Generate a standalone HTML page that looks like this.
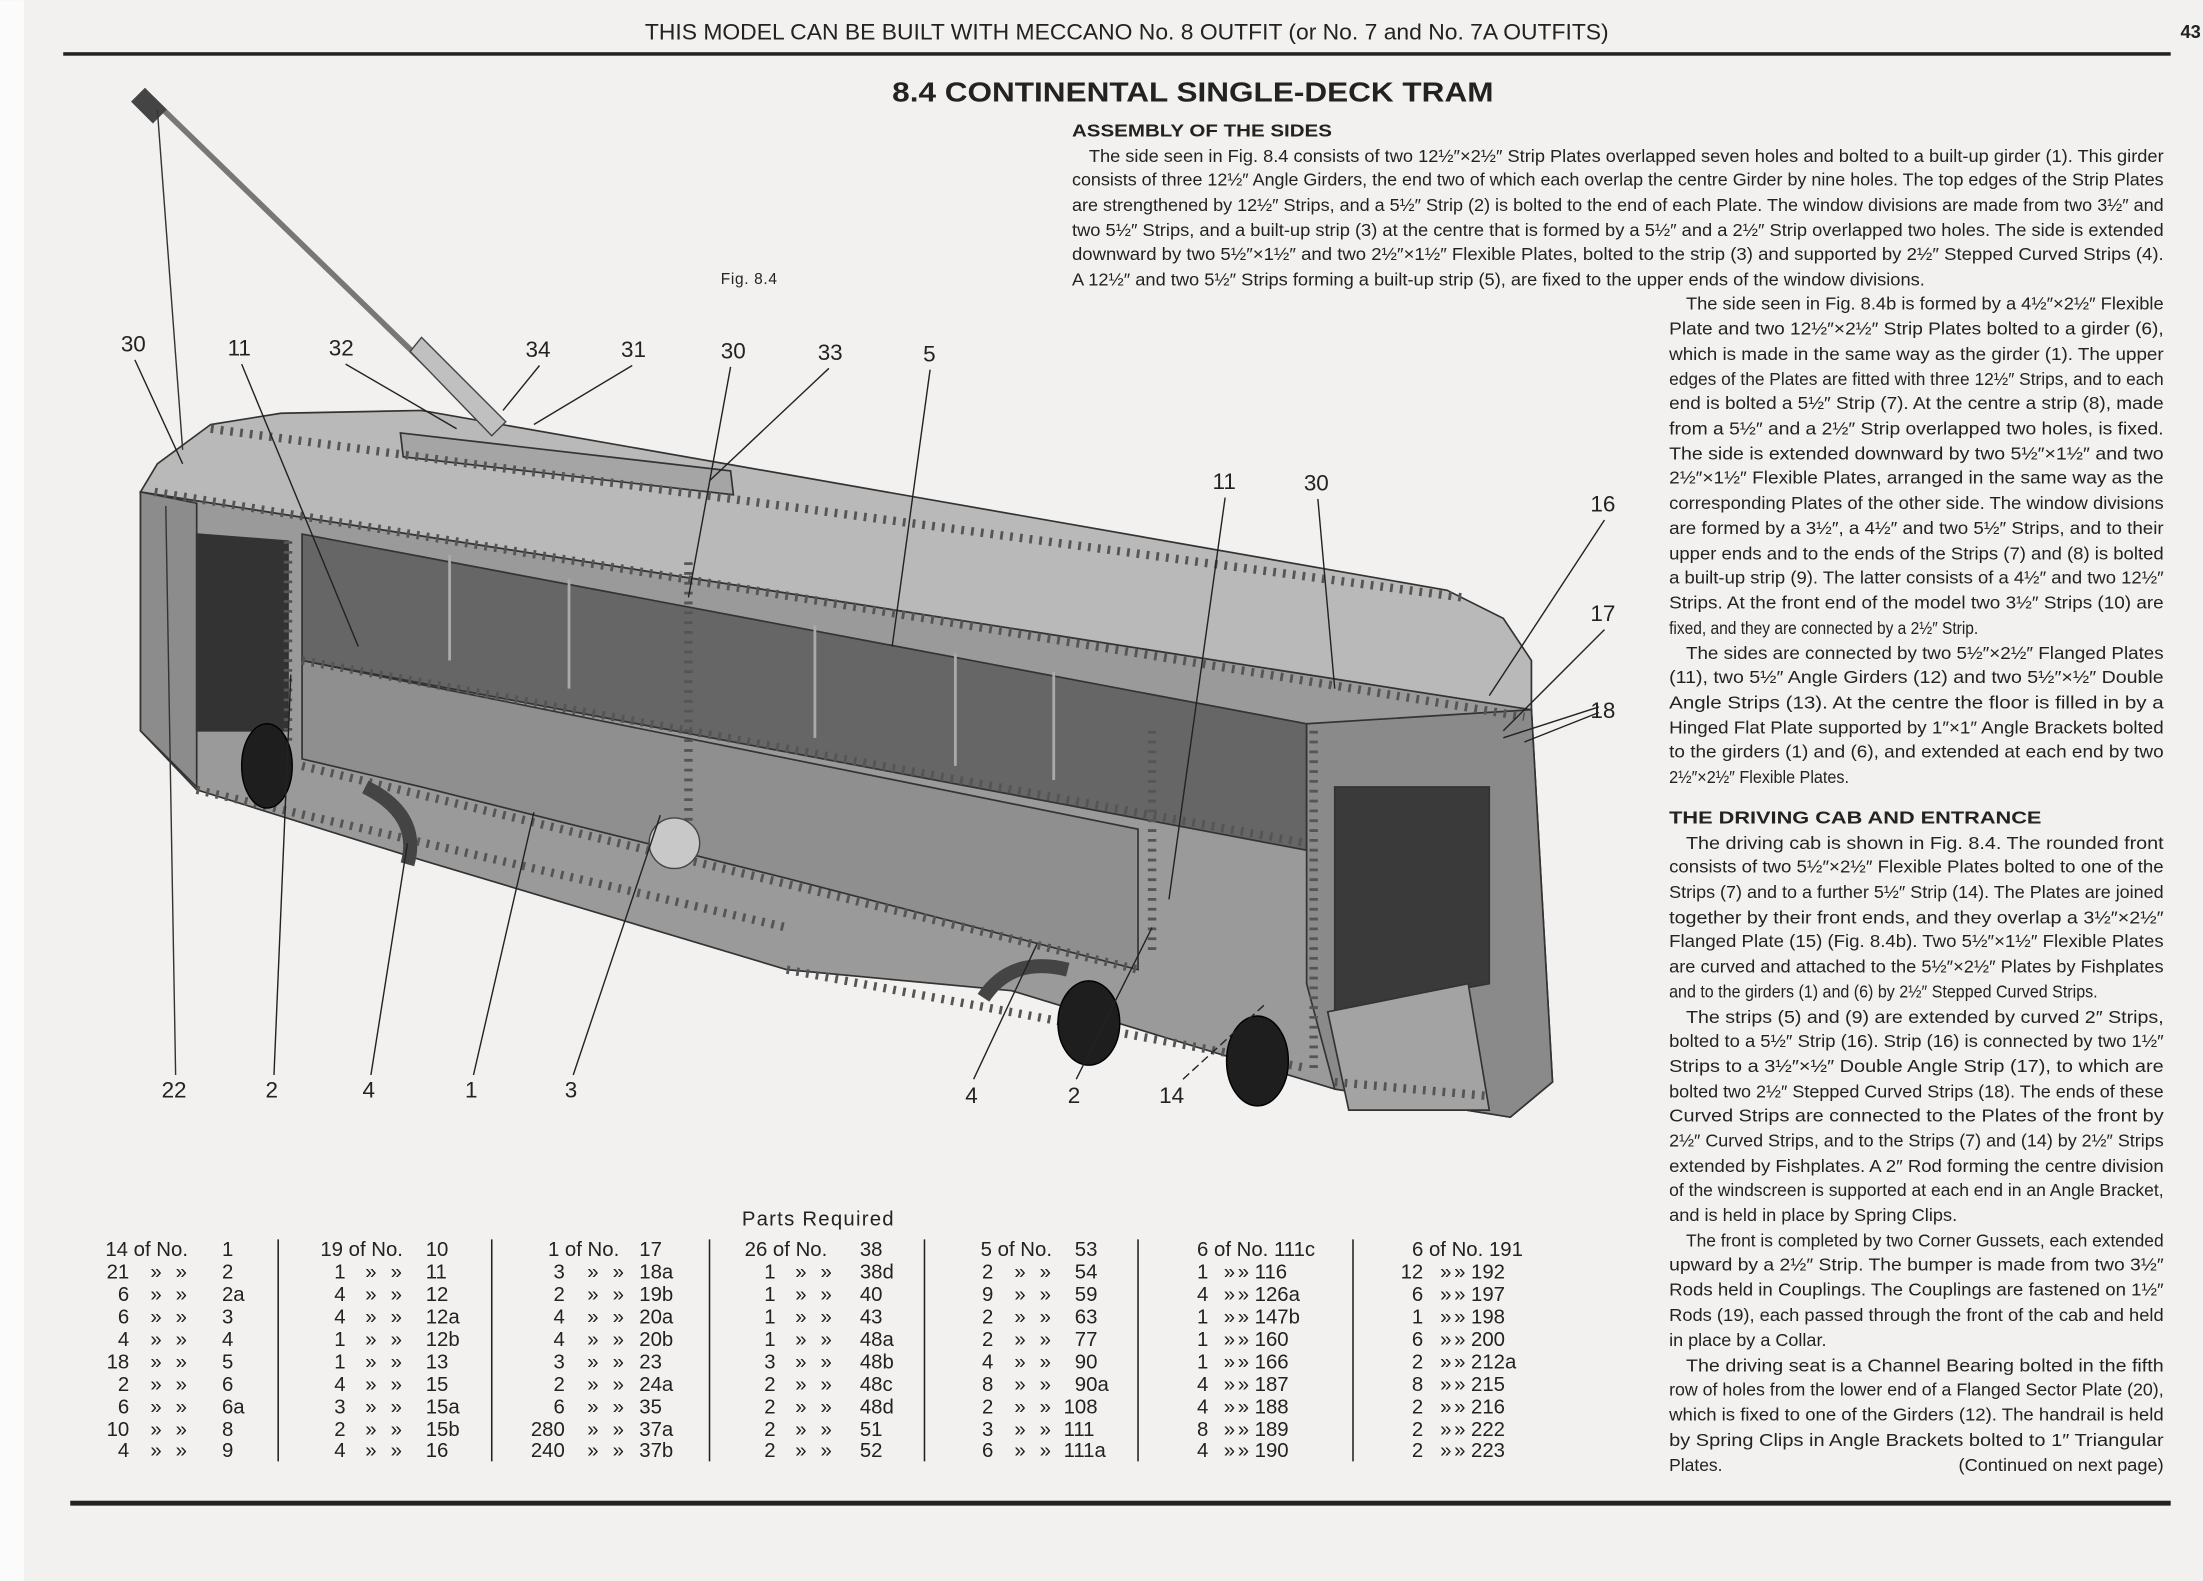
<!DOCTYPE html>
<html><head><meta charset="utf-8"><style>
html,body{margin:0;padding:0;background:#f3f1ef;}
svg{display:block}
text{font-family:"Liberation Sans",sans-serif;fill:#222}
.p{font-size:12.4px}
.t{font-size:14.5px}
.l{font-size:16px;fill:#111}
</style></head><body>
<svg width="2203" height="1581" viewBox="0 0 1568 1125" xmlns="http://www.w3.org/2000/svg">
<rect x="0" y="0" width="1568" height="1125" fill="#f3f1ef"/>
<rect x="0" y="0" width="17" height="1125" fill="#fbfbfb"/>
<text x="802" y="28" text-anchor="middle" style="font-size:16px" textLength="686" lengthAdjust="spacingAndGlyphs">THIS MODEL CAN BE BUILT WITH MECCANO No. 8 OUTFIT (or No. 7 and No. 7A OUTFITS)</text>
<text x="1552" y="27" style="font-size:13px;font-weight:bold">43</text>
<rect x="45" y="37" width="1500" height="2.5" fill="#222"/>
<rect x="50" y="1068" width="1495" height="3.5" fill="#222"/>
<text x="635" y="72" style="font-size:20px;font-weight:bold" textLength="428" lengthAdjust="spacingAndGlyphs">8.4  CONTINENTAL SINGLE-DECK TRAM</text>
<text x="763" y="97" style="font-size:12.5px;font-weight:bold" textLength="185" lengthAdjust="spacingAndGlyphs">ASSEMBLY OF THE SIDES</text>
<g class="p">
<text x="775" y="115" textLength="765" lengthAdjust="spacingAndGlyphs">The side seen in Fig. 8.4 consists of two 12½″×2½″ Strip Plates overlapped seven holes and bolted to a built-up girder (1). This girder</text>
<text x="763" y="132" textLength="777" lengthAdjust="spacingAndGlyphs">consists of three 12½″ Angle Girders, the end two of which each overlap the centre Girder by nine holes. The top edges of the Strip Plates</text>
<text x="763" y="150" textLength="777" lengthAdjust="spacingAndGlyphs">are strengthened by 12½″ Strips, and a 5½″ Strip (2) is bolted to the end of each Plate. The window divisions are made from two 3½″ and</text>
<text x="763" y="168" textLength="777" lengthAdjust="spacingAndGlyphs">two 5½″ Strips, and a built-up strip (3) at the centre that is formed by a 5½″ and a 2½″ Strip overlapped two holes. The side is extended</text>
<text x="763" y="185" textLength="777" lengthAdjust="spacingAndGlyphs">downward by two 5½″×1½″ and two 2½″×1½″ Flexible Plates, bolted to the strip (3) and supported by 2½″ Stepped Curved Strips (4).</text>
<text x="763" y="203" textLength="607" lengthAdjust="spacingAndGlyphs">A 12½″ and two 5½″ Strips forming a built-up strip (5), are fixed to the upper ends of the window divisions.</text>
<text x="1200" y="220" textLength="340" lengthAdjust="spacingAndGlyphs">The side seen in Fig. 8.4b is formed by a 4½″×2½″ Flexible</text>
<text x="1188" y="238" textLength="352" lengthAdjust="spacingAndGlyphs">Plate and two 12½″×2½″ Strip Plates bolted to a girder (6),</text>
<text x="1188" y="256" textLength="352" lengthAdjust="spacingAndGlyphs">which is made in the same way as the girder (1). The upper</text>
<text x="1188" y="274" textLength="352" lengthAdjust="spacingAndGlyphs">edges of the Plates are fitted with three 12½″ Strips, and to each</text>
<text x="1188" y="291" textLength="352" lengthAdjust="spacingAndGlyphs">end is bolted a 5½″ Strip (7). At the centre a strip (8), made</text>
<text x="1188" y="309" textLength="352" lengthAdjust="spacingAndGlyphs">from a 5½″ and a 2½″ Strip overlapped two holes, is fixed.</text>
<text x="1188" y="327" textLength="352" lengthAdjust="spacingAndGlyphs">The side is extended downward by two 5½″×1½″ and two</text>
<text x="1188" y="344" textLength="352" lengthAdjust="spacingAndGlyphs">2½″×1½″ Flexible Plates, arranged in the same way as the</text>
<text x="1188" y="362" textLength="352" lengthAdjust="spacingAndGlyphs">corresponding Plates of the other side. The window divisions</text>
<text x="1188" y="380" textLength="352" lengthAdjust="spacingAndGlyphs">are formed by a 3½″, a 4½″ and two 5½″ Strips, and to their</text>
<text x="1188" y="398" textLength="352" lengthAdjust="spacingAndGlyphs">upper ends and to the ends of the Strips (7) and (8) is bolted</text>
<text x="1188" y="415" textLength="352" lengthAdjust="spacingAndGlyphs">a built-up strip (9). The latter consists of a 4½″ and two 12½″</text>
<text x="1188" y="433" textLength="352" lengthAdjust="spacingAndGlyphs">Strips. At the front end of the model two 3½″ Strips (10) are</text>
<text x="1188" y="451" textLength="220" lengthAdjust="spacingAndGlyphs">fixed, and they are connected by a 2½″ Strip.</text>
<text x="1200" y="469" textLength="340" lengthAdjust="spacingAndGlyphs">The sides are connected by two 5½″×2½″ Flanged Plates</text>
<text x="1188" y="486" textLength="352" lengthAdjust="spacingAndGlyphs">(11), two 5½″ Angle Girders (12) and two 5½″×½″ Double</text>
<text x="1188" y="504" textLength="352" lengthAdjust="spacingAndGlyphs">Angle Strips (13). At the centre the floor is filled in by a</text>
<text x="1188" y="522" textLength="352" lengthAdjust="spacingAndGlyphs">Hinged Flat Plate supported by 1″×1″ Angle Brackets bolted</text>
<text x="1188" y="539" textLength="352" lengthAdjust="spacingAndGlyphs">to the girders (1) and (6), and extended at each end by two</text>
<text x="1188" y="557" textLength="128" lengthAdjust="spacingAndGlyphs">2½″×2½″ Flexible Plates.</text>
<text x="1188" y="586" style="font-size:12.5px;font-weight:bold" textLength="265" lengthAdjust="spacingAndGlyphs">THE DRIVING CAB AND ENTRANCE</text>
<text x="1200" y="604" textLength="340" lengthAdjust="spacingAndGlyphs">The driving cab is shown in Fig. 8.4. The rounded front</text>
<text x="1188" y="621" textLength="352" lengthAdjust="spacingAndGlyphs">consists of two 5½″×2½″ Flexible Plates bolted to one of the</text>
<text x="1188" y="639" textLength="352" lengthAdjust="spacingAndGlyphs">Strips (7) and to a further 5½″ Strip (14). The Plates are joined</text>
<text x="1188" y="657" textLength="352" lengthAdjust="spacingAndGlyphs">together by their front ends, and they overlap a 3½″×2½″</text>
<text x="1188" y="674" textLength="352" lengthAdjust="spacingAndGlyphs">Flanged Plate (15) (Fig. 8.4b). Two 5½″×1½″ Flexible Plates</text>
<text x="1188" y="692" textLength="352" lengthAdjust="spacingAndGlyphs">are curved and attached to the 5½″×2½″ Plates by Fishplates</text>
<text x="1188" y="710" textLength="305" lengthAdjust="spacingAndGlyphs">and to the girders (1) and (6) by 2½″ Stepped Curved Strips.</text>
<text x="1200" y="728" textLength="340" lengthAdjust="spacingAndGlyphs">The strips (5) and (9) are extended by curved 2″ Strips,</text>
<text x="1188" y="745" textLength="352" lengthAdjust="spacingAndGlyphs">bolted to a 5½″ Strip (16). Strip (16) is connected by two 1½″</text>
<text x="1188" y="763" textLength="352" lengthAdjust="spacingAndGlyphs">Strips to a 3½″×½″ Double Angle Strip (17), to which are</text>
<text x="1188" y="781" textLength="352" lengthAdjust="spacingAndGlyphs">bolted two 2½″ Stepped Curved Strips (18). The ends of these</text>
<text x="1188" y="798" textLength="352" lengthAdjust="spacingAndGlyphs">Curved Strips are connected to the Plates of the front by</text>
<text x="1188" y="816" textLength="352" lengthAdjust="spacingAndGlyphs">2½″ Curved Strips, and to the Strips (7) and (14) by 2½″ Strips</text>
<text x="1188" y="834" textLength="352" lengthAdjust="spacingAndGlyphs">extended by Fishplates. A 2″ Rod forming the centre division</text>
<text x="1188" y="851" textLength="352" lengthAdjust="spacingAndGlyphs">of the windscreen is supported at each end in an Angle Bracket,</text>
<text x="1188" y="869" textLength="205" lengthAdjust="spacingAndGlyphs">and is held in place by Spring Clips.</text>
<text x="1200" y="887" textLength="340" lengthAdjust="spacingAndGlyphs">The front is completed by two Corner Gussets, each extended</text>
<text x="1188" y="904" textLength="352" lengthAdjust="spacingAndGlyphs">upward by a 2½″ Strip. The bumper is made from two 3½″</text>
<text x="1188" y="922" textLength="352" lengthAdjust="spacingAndGlyphs">Rods held in Couplings. The Couplings are fastened on 1½″</text>
<text x="1188" y="940" textLength="352" lengthAdjust="spacingAndGlyphs">Rods (19), each passed through the front of the cab and held</text>
<text x="1188" y="958" textLength="112" lengthAdjust="spacingAndGlyphs">in place by a Collar.</text>
<text x="1200" y="976" textLength="340" lengthAdjust="spacingAndGlyphs">The driving seat is a Channel Bearing bolted in the fifth</text>
<text x="1188" y="993" textLength="352" lengthAdjust="spacingAndGlyphs">row of holes from the lower end of a Flanged Sector Plate (20),</text>
<text x="1188" y="1011" textLength="352" lengthAdjust="spacingAndGlyphs">which is fixed to one of the Girders (12). The handrail is held</text>
<text x="1188" y="1029" textLength="352" lengthAdjust="spacingAndGlyphs">by Spring Clips in Angle Brackets bolted to 1″ Triangular</text>
<text x="1188" y="1047" textLength="38" lengthAdjust="spacingAndGlyphs">Plates.</text>
<text x="1540" y="1047" text-anchor="end" textLength="146" lengthAdjust="spacingAndGlyphs">(Continued on next page)</text>
</g>
<text x="513" y="202" style="font-size:11px" textLength="40">Fig. 8.4</text>

<g stroke="#333" stroke-width="1.2">
<polygon points="100,350 1090,505 1105,770 1075,795 950,775 720,705 560,690 300,612 140,562 100,520" fill="#9a9a9a"/>
<polygon points="112,330 150,302 200,294 300,292 1030,420 1070,440 1090,470 1090,505 100,350" fill="#b9b9b9"/>
<polygon points="285,308 520,335 522,352 287,325" fill="#a5a5a5"/>
<polygon points="215,380 930,515 930,605 215,470" fill="#666"/>
<polygon points="215,470 810,590 810,690 560,625 300,560 215,540" fill="#8f8f8f"/>
<polygon points="930,515 1090,505 1105,770 1075,795 950,775 930,700" fill="#8a8a8a"/>
<polygon points="950,560 1060,560 1060,700 950,720" fill="#3a3a3a"/>
<polygon points="945,720 1045,700 1060,790 960,790" fill="#a3a3a3"/>
<polygon points="100,350 140,358 140,560 100,520" fill="#8c8c8c"/>
<polygon points="140,380 205,385 205,520 140,520" fill="#333"/>
</g>
<g stroke="#555" stroke-width="6" stroke-dasharray="2 5" fill="none">
<line x1="110" y1="350" x2="1085" y2="510"/>
<line x1="215" y1="470" x2="930" y2="600"/>
<line x1="215" y1="545" x2="810" y2="690"/>
<line x1="140" y1="562" x2="560" y2="660"/>
<line x1="560" y1="690" x2="930" y2="760"/>
<line x1="950" y1="770" x2="1060" y2="780"/>
<line x1="490" y1="400" x2="490" y2="610"/>
<line x1="935" y1="520" x2="935" y2="760"/>
<line x1="820" y1="520" x2="820" y2="680"/>
<line x1="205" y1="385" x2="205" y2="530"/>
<line x1="150" y1="305" x2="1040" y2="425"/>
</g>
<g stroke="#aaa" stroke-width="2">
<line x1="320" y1="395" x2="320" y2="470"/><line x1="405" y1="412" x2="405" y2="490"/>
<line x1="580" y1="445" x2="580" y2="525"/><line x1="680" y1="465" x2="680" y2="545"/>
<line x1="750" y1="478" x2="750" y2="555"/>
</g>
<circle cx="480" cy="600" r="18" fill="#c8c8c8" stroke="#444"/>
<g fill="#1e1e1e" stroke="#000">
<ellipse cx="190" cy="545" rx="18" ry="30"/>
<ellipse cx="775" cy="728" rx="22" ry="30"/>
<ellipse cx="895" cy="755" rx="22" ry="32"/>
</g>
<path d="M260,560 Q300,580 290,615" stroke="#444" stroke-width="10" fill="none"/>
<path d="M700,710 Q720,680 760,690" stroke="#444" stroke-width="10" fill="none"/>
<line x1="108" y1="70" x2="345" y2="300" stroke="#777" stroke-width="4"/>
<rect x="99" y="64" width="14" height="22" fill="#444" transform="rotate(-45 106 75)"/>
<path d="M300,240 L360,300 L350,310 L292,250 Z" fill="#c0c0c0" stroke="#444"/>
<line x1="112" y1="78" x2="130" y2="320" stroke="#333" stroke-width="1"/>
<line x1="125" y1="765" x2="118" y2="360" stroke="#333" stroke-width="1"/>

<g class="l">
<text x="86" y="250">30</text><text x="162" y="253">11</text><text x="234" y="253">32</text>
<text x="374" y="254">34</text><text x="442" y="254">31</text><text x="513" y="255">30</text>
<text x="582" y="256">33</text><text x="657" y="257">5</text><text x="863" y="348">11</text>
<text x="928" y="349">30</text><text x="1132" y="364">16</text><text x="1132" y="442">17</text>
<text x="1132" y="511">18</text><text x="115" y="781">22</text><text x="189" y="781">2</text>
<text x="258" y="781">4</text><text x="331" y="781">1</text><text x="402" y="781">3</text>
<text x="687" y="785">4</text><text x="760" y="785">2</text><text x="825" y="785">14</text>
</g>
<g stroke="#222" stroke-width="1" fill="none">
<line x1="96" y1="256" x2="130" y2="330"/><line x1="172" y1="259" x2="255" y2="460"/>
<line x1="246" y1="259" x2="325" y2="305"/><line x1="384" y1="260" x2="358" y2="292"/>
<line x1="450" y1="260" x2="380" y2="302"/><line x1="520" y1="261" x2="490" y2="425"/>
<line x1="590" y1="262" x2="505" y2="342"/><line x1="662" y1="263" x2="635" y2="460"/>
<line x1="872" y1="354" x2="832" y2="640"/><line x1="938" y1="355" x2="950" y2="490"/>
<line x1="1142" y1="370" x2="1060" y2="495"/><line x1="1142" y1="448" x2="1070" y2="520"/>
<line x1="1138" y1="503" x2="1070" y2="525"/><line x1="1138" y1="507" x2="1085" y2="528"/>
<line x1="195" y1="765" x2="207" y2="480"/><line x1="264" y1="765" x2="290" y2="600"/>
<line x1="337" y1="765" x2="380" y2="578"/><line x1="408" y1="765" x2="470" y2="580"/>
<line x1="693" y1="768" x2="738" y2="672"/><line x1="766" y1="768" x2="820" y2="660"/>
<line x1="842" y1="768" x2="900" y2="715" stroke-dasharray="6 3"/>
</g>

<text x="528" y="872" style="font-size:14.5px" textLength="108">Parts Required</text>
<g stroke="#222" stroke-width="1.1">
<line x1="198" y1="882" x2="198" y2="1040"/><line x1="350" y1="882" x2="350" y2="1040"/>
<line x1="505" y1="882" x2="505" y2="1040"/><line x1="658" y1="882" x2="658" y2="1040"/>
<line x1="810" y1="882" x2="810" y2="1040"/><line x1="963" y1="882" x2="963" y2="1040"/>
</g>
<g class="t">
<text x="75" y="894">14 of No.</text><text x="158" y="894">1</text>
<text y="910"><tspan x="92" text-anchor="end">21</tspan><tspan x="107">»</tspan><tspan x="125">»</tspan><tspan x="158">2</tspan></text>
<text y="926"><tspan x="92" text-anchor="end">6</tspan><tspan x="107">»</tspan><tspan x="125">»</tspan><tspan x="158">2a</tspan></text>
<text y="942"><tspan x="92" text-anchor="end">6</tspan><tspan x="107">»</tspan><tspan x="125">»</tspan><tspan x="158">3</tspan></text>
<text y="958"><tspan x="92" text-anchor="end">4</tspan><tspan x="107">»</tspan><tspan x="125">»</tspan><tspan x="158">4</tspan></text>
<text y="974"><tspan x="92" text-anchor="end">18</tspan><tspan x="107">»</tspan><tspan x="125">»</tspan><tspan x="158">5</tspan></text>
<text y="990"><tspan x="92" text-anchor="end">2</tspan><tspan x="107">»</tspan><tspan x="125">»</tspan><tspan x="158">6</tspan></text>
<text y="1006"><tspan x="92" text-anchor="end">6</tspan><tspan x="107">»</tspan><tspan x="125">»</tspan><tspan x="158">6a</tspan></text>
<text y="1022"><tspan x="92" text-anchor="end">10</tspan><tspan x="107">»</tspan><tspan x="125">»</tspan><tspan x="158">8</tspan></text>
<text y="1037"><tspan x="92" text-anchor="end">4</tspan><tspan x="107">»</tspan><tspan x="125">»</tspan><tspan x="158">9</tspan></text>

<text x="228" y="894">19 of No.</text><text x="303" y="894">10</text>
<text y="910"><tspan x="246" text-anchor="end">1</tspan><tspan x="260">»</tspan><tspan x="278">»</tspan><tspan x="303">11</tspan></text>
<text y="926"><tspan x="246" text-anchor="end">4</tspan><tspan x="260">»</tspan><tspan x="278">»</tspan><tspan x="303">12</tspan></text>
<text y="942"><tspan x="246" text-anchor="end">4</tspan><tspan x="260">»</tspan><tspan x="278">»</tspan><tspan x="303">12a</tspan></text>
<text y="958"><tspan x="246" text-anchor="end">1</tspan><tspan x="260">»</tspan><tspan x="278">»</tspan><tspan x="303">12b</tspan></text>
<text y="974"><tspan x="246" text-anchor="end">1</tspan><tspan x="260">»</tspan><tspan x="278">»</tspan><tspan x="303">13</tspan></text>
<text y="990"><tspan x="246" text-anchor="end">4</tspan><tspan x="260">»</tspan><tspan x="278">»</tspan><tspan x="303">15</tspan></text>
<text y="1006"><tspan x="246" text-anchor="end">3</tspan><tspan x="260">»</tspan><tspan x="278">»</tspan><tspan x="303">15a</tspan></text>
<text y="1022"><tspan x="246" text-anchor="end">2</tspan><tspan x="260">»</tspan><tspan x="278">»</tspan><tspan x="303">15b</tspan></text>
<text y="1037"><tspan x="246" text-anchor="end">4</tspan><tspan x="260">»</tspan><tspan x="278">»</tspan><tspan x="303">16</tspan></text>

<text x="390" y="894">1 of No.</text><text x="455" y="894">17</text>
<text y="910"><tspan x="402" text-anchor="end">3</tspan><tspan x="418">»</tspan><tspan x="436">»</tspan><tspan x="455">18a</tspan></text>
<text y="926"><tspan x="402" text-anchor="end">2</tspan><tspan x="418">»</tspan><tspan x="436">»</tspan><tspan x="455">19b</tspan></text>
<text y="942"><tspan x="402" text-anchor="end">4</tspan><tspan x="418">»</tspan><tspan x="436">»</tspan><tspan x="455">20a</tspan></text>
<text y="958"><tspan x="402" text-anchor="end">4</tspan><tspan x="418">»</tspan><tspan x="436">»</tspan><tspan x="455">20b</tspan></text>
<text y="974"><tspan x="402" text-anchor="end">3</tspan><tspan x="418">»</tspan><tspan x="436">»</tspan><tspan x="455">23</tspan></text>
<text y="990"><tspan x="402" text-anchor="end">2</tspan><tspan x="418">»</tspan><tspan x="436">»</tspan><tspan x="455">24a</tspan></text>
<text y="1006"><tspan x="402" text-anchor="end">6</tspan><tspan x="418">»</tspan><tspan x="436">»</tspan><tspan x="455">35</tspan></text>
<text y="1022"><tspan x="402" text-anchor="end">280</tspan><tspan x="418">»</tspan><tspan x="436">»</tspan><tspan x="455">37a</tspan></text>
<text y="1037"><tspan x="402" text-anchor="end">240</tspan><tspan x="418">»</tspan><tspan x="436">»</tspan><tspan x="455">37b</tspan></text>

<text x="530" y="894">26 of No.</text><text x="612" y="894">38</text>
<text y="910"><tspan x="552" text-anchor="end">1</tspan><tspan x="566">»</tspan><tspan x="584">»</tspan><tspan x="612">38d</tspan></text>
<text y="926"><tspan x="552" text-anchor="end">1</tspan><tspan x="566">»</tspan><tspan x="584">»</tspan><tspan x="612">40</tspan></text>
<text y="942"><tspan x="552" text-anchor="end">1</tspan><tspan x="566">»</tspan><tspan x="584">»</tspan><tspan x="612">43</tspan></text>
<text y="958"><tspan x="552" text-anchor="end">1</tspan><tspan x="566">»</tspan><tspan x="584">»</tspan><tspan x="612">48a</tspan></text>
<text y="974"><tspan x="552" text-anchor="end">3</tspan><tspan x="566">»</tspan><tspan x="584">»</tspan><tspan x="612">48b</tspan></text>
<text y="990"><tspan x="552" text-anchor="end">2</tspan><tspan x="566">»</tspan><tspan x="584">»</tspan><tspan x="612">48c</tspan></text>
<text y="1006"><tspan x="552" text-anchor="end">2</tspan><tspan x="566">»</tspan><tspan x="584">»</tspan><tspan x="612">48d</tspan></text>
<text y="1022"><tspan x="552" text-anchor="end">2</tspan><tspan x="566">»</tspan><tspan x="584">»</tspan><tspan x="612">51</tspan></text>
<text y="1037"><tspan x="552" text-anchor="end">2</tspan><tspan x="566">»</tspan><tspan x="584">»</tspan><tspan x="612">52</tspan></text>

<text x="698" y="894">5 of No.</text><text x="765" y="894">53</text>
<text y="910"><tspan x="707" text-anchor="end">2</tspan><tspan x="722">»</tspan><tspan x="740">»</tspan><tspan x="765">54</tspan></text>
<text y="926"><tspan x="707" text-anchor="end">9</tspan><tspan x="722">»</tspan><tspan x="740">»</tspan><tspan x="765">59</tspan></text>
<text y="942"><tspan x="707" text-anchor="end">2</tspan><tspan x="722">»</tspan><tspan x="740">»</tspan><tspan x="765">63</tspan></text>
<text y="958"><tspan x="707" text-anchor="end">2</tspan><tspan x="722">»</tspan><tspan x="740">»</tspan><tspan x="765">77</tspan></text>
<text y="974"><tspan x="707" text-anchor="end">4</tspan><tspan x="722">»</tspan><tspan x="740">»</tspan><tspan x="765">90</tspan></text>
<text y="990"><tspan x="707" text-anchor="end">8</tspan><tspan x="722">»</tspan><tspan x="740">»</tspan><tspan x="765">90a</tspan></text>
<text y="1006"><tspan x="707" text-anchor="end">2</tspan><tspan x="722">»</tspan><tspan x="740">»</tspan><tspan x="757">108</tspan></text>
<text y="1022"><tspan x="707" text-anchor="end">3</tspan><tspan x="722">»</tspan><tspan x="740">»</tspan><tspan x="757">111</tspan></text>
<text y="1037"><tspan x="707" text-anchor="end">6</tspan><tspan x="722">»</tspan><tspan x="740">»</tspan><tspan x="757">111a</tspan></text>

<text x="852" y="894">6 of No. 111c</text>
<text y="910"><tspan x="860" text-anchor="end">1</tspan><tspan x="871">»</tspan><tspan x="881">»</tspan><tspan x="893">116</tspan></text>
<text y="926"><tspan x="860" text-anchor="end">4</tspan><tspan x="871">»</tspan><tspan x="881">»</tspan><tspan x="893">126a</tspan></text>
<text y="942"><tspan x="860" text-anchor="end">1</tspan><tspan x="871">»</tspan><tspan x="881">»</tspan><tspan x="893">147b</tspan></text>
<text y="958"><tspan x="860" text-anchor="end">1</tspan><tspan x="871">»</tspan><tspan x="881">»</tspan><tspan x="893">160</tspan></text>
<text y="974"><tspan x="860" text-anchor="end">1</tspan><tspan x="871">»</tspan><tspan x="881">»</tspan><tspan x="893">166</tspan></text>
<text y="990"><tspan x="860" text-anchor="end">4</tspan><tspan x="871">»</tspan><tspan x="881">»</tspan><tspan x="893">187</tspan></text>
<text y="1006"><tspan x="860" text-anchor="end">4</tspan><tspan x="871">»</tspan><tspan x="881">»</tspan><tspan x="893">188</tspan></text>
<text y="1022"><tspan x="860" text-anchor="end">8</tspan><tspan x="871">»</tspan><tspan x="881">»</tspan><tspan x="893">189</tspan></text>
<text y="1037"><tspan x="860" text-anchor="end">4</tspan><tspan x="871">»</tspan><tspan x="881">»</tspan><tspan x="893">190</tspan></text>

<text x="1005" y="894">6 of No. 191</text>
<text y="910"><tspan x="1013" text-anchor="end">12</tspan><tspan x="1025">»</tspan><tspan x="1035">»</tspan><tspan x="1047">192</tspan></text>
<text y="926"><tspan x="1013" text-anchor="end">6</tspan><tspan x="1025">»</tspan><tspan x="1035">»</tspan><tspan x="1047">197</tspan></text>
<text y="942"><tspan x="1013" text-anchor="end">1</tspan><tspan x="1025">»</tspan><tspan x="1035">»</tspan><tspan x="1047">198</tspan></text>
<text y="958"><tspan x="1013" text-anchor="end">6</tspan><tspan x="1025">»</tspan><tspan x="1035">»</tspan><tspan x="1047">200</tspan></text>
<text y="974"><tspan x="1013" text-anchor="end">2</tspan><tspan x="1025">»</tspan><tspan x="1035">»</tspan><tspan x="1047">212a</tspan></text>
<text y="990"><tspan x="1013" text-anchor="end">8</tspan><tspan x="1025">»</tspan><tspan x="1035">»</tspan><tspan x="1047">215</tspan></text>
<text y="1006"><tspan x="1013" text-anchor="end">2</tspan><tspan x="1025">»</tspan><tspan x="1035">»</tspan><tspan x="1047">216</tspan></text>
<text y="1022"><tspan x="1013" text-anchor="end">2</tspan><tspan x="1025">»</tspan><tspan x="1035">»</tspan><tspan x="1047">222</tspan></text>
<text y="1037"><tspan x="1013" text-anchor="end">2</tspan><tspan x="1025">»</tspan><tspan x="1035">»</tspan><tspan x="1047">223</tspan></text>
</g>
</svg>
</body></html>
